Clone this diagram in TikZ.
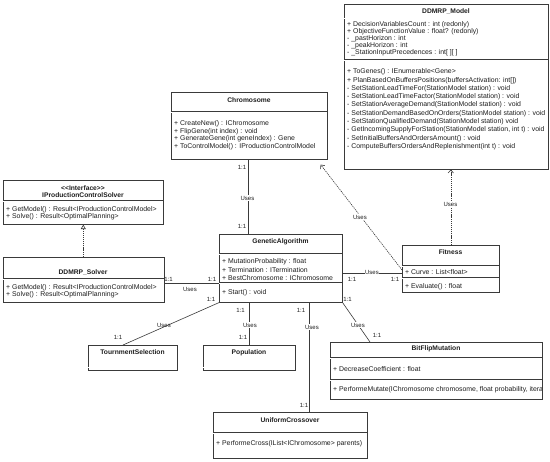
\documentclass[tikz,border=0pt]{standalone}
\usepackage{fontspec}
\setmainfont{Liberation Sans}
\usetikzlibrary{arrows.meta,calc}
\definecolor{lc}{HTML}{3A3A3A}
\definecolor{tc}{HTML}{1E1E1E}
\tikzset{
  box/.style={draw=lc, fill=white, line width=0.6pt, inner sep=0pt, anchor=north west},
  txt/.style={anchor=west, inner sep=0pt, font=\fontsize{6.9}{8}\selectfont, text=tc},
  ttl/.style={inner sep=0pt, font=\bfseries\fontsize{6.7}{8}\selectfont, text=tc},
  lbl/.style={inner sep=0.6pt, font=\fontsize{6}{7}\selectfont, text=tc},
  conn/.style={draw=lc, line width=0.6pt},
  sepl/.style={draw=lc, line width=0.45pt, double=white, double distance=0.9pt},
  dep/.style={conn, dash pattern=on 1.2pt off 0.9pt, -{Straight Barb[length=3pt,width=5.5pt]}},
  real/.style={conn, dash pattern=on 1.2pt off 0.9pt, -{Triangle[open,length=4.5pt,width=5pt]}}
}
\begin{document}
\begin{tikzpicture}[x=1pt,y=-1pt]
\useasboundingbox[fill=white] (0,0) rectangle (550,462);

% ---------- boxes ----------
\node[box, minimum width=204pt, minimum height=165pt] (ddmrp) at (344,4) {};
\node[box, minimum width=156pt, minimum height=67pt] (chrom) at (171,92) {};
\node[box, minimum width=160pt, minimum height=44pt] (iface) at (3,180) {};
\node[box, minimum width=161pt, minimum height=45pt] (solver) at (3,257) {};
\node[box, minimum width=123pt, minimum height=68pt] (ga) at (219,234) {};
\node[box, minimum width=97pt, minimum height=47pt] (fit) at (402,245) {};
\node[box, minimum width=89pt, minimum height=25pt] (ts) at (88,345) {};
\node[box, minimum width=92pt, minimum height=25pt] (pop) at (203,345) {};
\node[box, minimum width=212pt, minimum height=57pt] (bf) at (330,342) {};
\node[box, minimum width=154pt, minimum height=46pt] (uc) at (213,412) {};

% ---------- separators ----------
\draw[sepl] (344,18.5) -- (548,18.5);
\draw[sepl] (344,60) -- (548,60);
\draw[sepl] (171,112) -- (327,112);
\draw[sepl] (3,201) -- (163,201);
\draw[sepl] (3,279) -- (164,279);
\draw[sepl] (219,254) -- (342,254);
\draw[sepl] (219,283) -- (342,283);
\draw[sepl] (402,266) -- (499,266);
\draw[sepl] (402,278) -- (499,278);
\draw[sepl] (88,367.5) -- (177,367.5);
\draw[sepl] (203,367.5) -- (295,367.5);
\draw[sepl] (330,358) -- (542,358);
\draw[sepl] (330,380) -- (542,380);
\draw[sepl] (213,433) -- (367,433);

% ---------- DDMRP_Model ----------
\node[ttl] (ddmrpT) at (446,11) {DDMRP\_Model};
\node[txt] (dm1) at (347,25) {+ DecisionVariablesCount : int (redonly)};
\node[txt] (dm2) at (347,32) {+ ObjectiveFunctionValue : float? (redonly)};
\node[txt] (dm3) at (347,39) {- \_pastHorizon : int};
\node[txt] (dm4) at (347,46) {- \_peakHorizon : int};
\node[txt] (dm5) at (347,53) {- \_StationInputPrecedences : int[ ][ ]};
\node[txt] (dn1) at (347,72) {+ ToGenes() : IEnumerable<Gene>};
\node[txt] (dn2) at (347,80.3) {+ PlanBasedOnBuffersPositions(buffersActivation: int[])};
\node[txt] (dn3) at (347,88.6) {- SetStationLeadTimeFor(StationModel station) : void};
\node[txt] (dn4) at (347,96.9) {- SetStationLeadTimeFactor(StationModel station) : void};
\node[txt] (dn5) at (347,105.2) {- SetStationAverageDemand(StationModel station) : void};
\node[txt] (dn6) at (347,113.5) {- SetStationDemandBasedOnOrders(StationModel station) : void};
\node[txt] (dn7) at (347,121.8) {- SetStationQualifiedDemand(StationModel station) void};
\node[txt] (dn8) at (347,130.1) {- GetIncomingSupplyForStation(StationModel station, int t) : void};
\node[txt] (dn9) at (347,138.4) {- SetInitialBuffersAndOrdersAmount() : void};
\node[txt] (dn10) at (347,146.7) {- ComputeBuffersOrdersAndReplenishment(int t) : void};

% ---------- Chromosome ----------
\node[ttl] (chromT) at (249,100) {Chromosome};
\node[txt] (c1) at (174,124) {+ CreateNew() : IChromosome};
\node[txt] (c2) at (174,131.5) {+ FlipGene(int index) : void};
\node[txt] (c3) at (174,139) {+ GenerateGene(int geneIndex) : Gene};
\node[txt] (c4) at (174,146.5) {+ ToControlModel() : IProductionControlModel};

% ---------- IProductionControlSolver ----------
\node[ttl] (ifaceS) at (83,188) {<{}<Interface>{}>};
\node[ttl] (ifaceT) at (83,195.5) {IProductionControlSolver};
\node[txt] (i1) at (6,210) {+ GetModel() : Result<IProductionControlModel>};
\node[txt] (i2) at (6,216.5) {+ Solve() : Result<OptimalPlanning>};

% ---------- DDMRP_Solver ----------
\node[ttl] (solverT) at (83,272) {DDMRP\_Solver};
\node[txt] (s1) at (6,288) {+ GetModel() : Result<IProductionControlModel>};
\node[txt] (s2) at (6,295) {+ Solve() : Result<OptimalPlanning>};

% ---------- GeneticAlgorithm ----------
\node[ttl] (gaT) at (280.5,242) {GeneticAlgorithm};
\node[txt] (g1) at (222,262) {+ MutationProbability : float};
\node[txt] (g2) at (222,270) {+ Termination : ITermination};
\node[txt] (g3) at (222,278) {+ BestChromosome : IChromosome};
\node[txt] (g4) at (222,293) {+ Start() : void};

% ---------- Fitness ----------
\node[ttl] (fitT) at (450.5,252) {Fitness};
\node[txt] (f1) at (405,272) {+ Curve : List<float>};
\node[txt] (f2) at (405,287) {+ Evaluate() : float};

% ---------- small boxes ----------
\node[ttl] (tsT) at (132.5,352.5) {TournmentSelection};
\node[ttl] (popT) at (249,352.5) {Population};

% ---------- BitFlipMutation ----------
\node[ttl] (bfT) at (436,348.5) {BitFlipMutation};
\node[txt] (b1) at (333,369) {+ DecreaseCoefficient : float};
\begin{scope}
\clip (330,381) rectangle (541.5,398);
\node[txt] (b2) at (333,390) {+ PerformeMutate(IChromosome chromosome, float probability, iterat};
\end{scope}

% ---------- UniformCrossover ----------
\node[ttl] (ucT) at (290,420.5) {UniformCrossover};
\node[txt] (u1) at (216,444) {+ PerformeCross(IList<IChromosome> parents)};

% ---------- connectors ----------
% Chromosome -- GA
\coordinate (cG) at ($(chrom.south)+(-1,0)$);
\draw[conn] (cG) -- (cG |- ga.north);
\node[lbl] (l1a) at (242,167) {1:1};
\node[lbl, fill=white] (l1b) at (247.5,198) {Uses};
\node[lbl] (l1c) at (242,226) {1:1};

% DDMRP_Solver -- GA
\coordinate (sA) at ($(solver.north east)+(0,26)$);
\draw[conn] (sA) -- (sA -| ga.west);
\node[lbl] (l2a) at (168.5,279) {1:1};
\node[lbl] (l2b) at (190,289) {Uses};
\node[lbl] (l2c) at (212,279) {1:1};

% GA -- TournmentSelection
\draw[conn] (ga.south west) -- ($(ts.north west)+(35,0)$);
\node[lbl] (l3a) at (211,299) {1:1};
\node[lbl] (l3b) at (164,325) {Uses};
\node[lbl] (l3c) at (118,337) {1:1};

% GA -- Population
\draw[conn] (pop.north |- ga.south) -- (pop.north);
\node[lbl] (l4a) at (240.5,310) {1:1};
\node[lbl, fill=white] (l4b) at (250,325) {Uses};
\node[lbl] (l4c) at (243,337) {1:1};

% GA -- UniformCrossover
\coordinate (gU) at ($(ga.south west)+(90,0)$);
\draw[conn] (gU) -- (gU |- uc.north);
\node[lbl] (l5a) at (301,310) {1:1};
\node[lbl, fill=white] (l5b) at (312,327) {Uses};
\node[lbl] (l5c) at (304,405) {1:1};

% GA -- BitFlipMutation
\draw[conn] (ga.south east) -- ($(bf.north west)+(40,0)$);
\node[lbl] (l6a) at (347.5,299) {1:1};
\node[lbl, fill=white] (l6b) at (358,325) {Uses};
\node[lbl] (l6c) at (377,335) {1:1};

% GA -- Fitness
\coordinate (gF) at ($(ga.north east)+(0,39)$);
\draw[conn] (gF) -- (gF -| fit.west);
\node[lbl, fill=white] (l7a) at (372,272) {Uses};
\node[lbl] (l7b) at (352,279) {1:1};
\node[lbl] (l7c) at (395,279) {1:1};

% Fitness ..> Chromosome
\draw[dep] ($(fit.north west)+(0,25)$) -- ($(chrom.south east)+(-7,5)$);
\node[lbl, fill=white] (l8) at (360,217) {Uses};

% Fitness ..> DDMRP_Model
\draw[dep] (fit.north) -- (fit.north |- ddmrp.south);
\node[lbl, fill=white] (l9) at (450.5,204) {Uses};

% DDMRP_Solver ..|> IProductionControlSolver
\draw[real] (solver.north -| iface.south) -- (iface.south);
\end{tikzpicture}
\end{document}
